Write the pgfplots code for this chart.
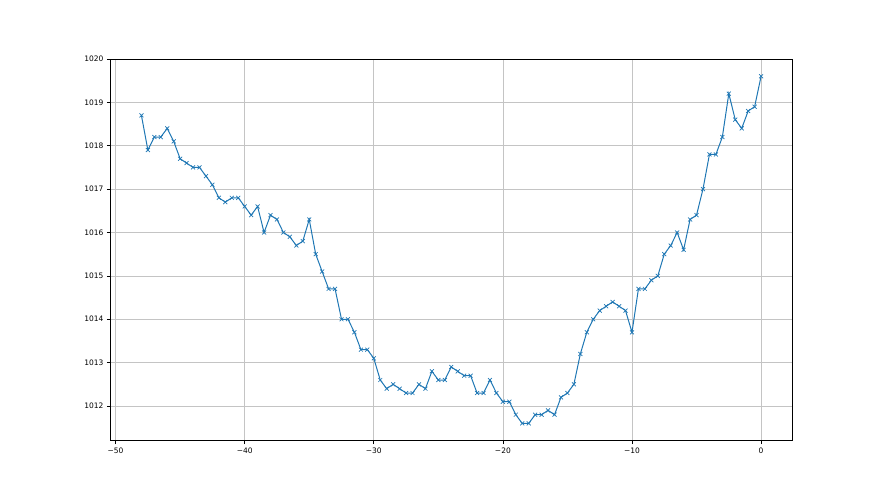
\documentclass[border=0pt]{standalone}
\usepackage{fontspec}
\setmainfont{DejaVu Sans}
\usepackage{pgfplots}
\pgfplotsset{compat=1.18}
\definecolor{mplblue}{HTML}{1F77B4}
\definecolor{mplgrid}{HTML}{C4C4C4}

\pgfplotstableread{
x y
-48 1018.7
-47.5 1017.9
-47 1018.2
-46.5 1018.2
-46 1018.4
-45.5 1018.1
-45 1017.7
-44.5 1017.6
-44 1017.5
-43.5 1017.5
-43 1017.3
-42.5 1017.1
-42 1016.8
-41.5 1016.7
-41 1016.8
-40.5 1016.8
-40 1016.6
-39.5 1016.4
-39 1016.6
-38.5 1016.0
-38 1016.4
-37.5 1016.3
-37 1016.0
-36.5 1015.9
-36 1015.7
-35.5 1015.8
-35 1016.3
-34.5 1015.5
-34 1015.1
-33.5 1014.7
-33 1014.7
-32.5 1014.0
-32 1014.0
-31.5 1013.7
-31 1013.3
-30.5 1013.3
-30 1013.1
-29.5 1012.6
-29 1012.4
-28.5 1012.5
-28 1012.4
-27.5 1012.3
-27 1012.3
-26.5 1012.5
-26 1012.4
-25.5 1012.8
-25 1012.6
-24.5 1012.6
-24 1012.9
-23.5 1012.8
-23 1012.7
-22.5 1012.7
-22 1012.3
-21.5 1012.3
-21 1012.6
-20.5 1012.3
-20 1012.1
-19.5 1012.1
-19 1011.8
-18.5 1011.6
-18 1011.6
-17.5 1011.8
-17 1011.8
-16.5 1011.9
-16 1011.8
-15.5 1012.2
-15 1012.3
-14.5 1012.5
-14 1013.2
-13.5 1013.7
-13 1014.0
-12.5 1014.2
-12 1014.3
-11.5 1014.4
-11 1014.3
-10.5 1014.2
-10 1013.7
-9.5 1014.7
-9 1014.7
-8.5 1014.9
-8 1015.0
-7.5 1015.5
-7 1015.7
-6.5 1016.0
-6 1015.6
-5.5 1016.3
-5 1016.4
-4.5 1017.0
-4 1017.8
-3.5 1017.8
-3 1018.2
-2.5 1019.2
-2 1018.6
-1.5 1018.4
-1 1018.8
-0.5 1018.9
0 1019.6
}\pressure

\begin{document}
\begin{tikzpicture}
\begin{axis}[
    name=ax,
    scale only axis,
    width=682pt,
    height=382pt,
    xmin=-50.4, xmax=2.4,
    ymin=1011.2, ymax=1020,
    xtick={-50,-40,-30,-20,-10,0},
    xticklabels={−50,−40,−30,−20,−10,0},
    ytick={1012,1013,1014,1015,1016,1017,1018,1019,1020},
    /pgf/number format/assume math mode=true,
    /pgf/number format/1000 sep={},
    ticklabel style={font=\fontsize{7.5}{9}\selectfont},
    grid=major,
    major grid style={mplgrid, line width=0.6pt},
    axis line style={line width=0.7pt},
    tick align=outside,
    major tick length=3.5pt,
    tick style={black, line width=0.6pt},
    xtick pos=bottom, ytick pos=left,
]
\addplot[mplblue, line width=1pt, mark=x, mark size=2.8pt,
    mark options={line width=0.7pt}] table[x=x, y=y] {\pressure};
\end{axis}
\path (ax.south west) ++(-110.5pt,-54pt) rectangle ([xshift=88pt,yshift=59pt]ax.north east);
\end{tikzpicture}
\end{document}
